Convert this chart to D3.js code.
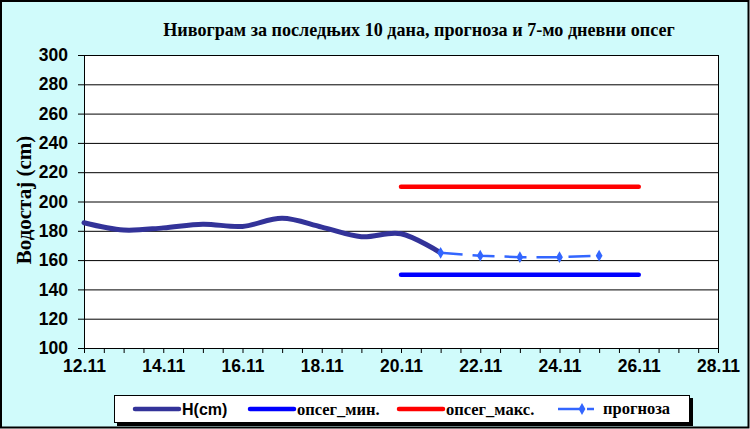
<!DOCTYPE html>
<html>
<head>
<meta charset="utf-8">
<script src="https://cdn.jsdelivr.net/npm/d3@7"></script>
<style>
  body { margin: 0; background: #fff; }
  svg { display: block; }
</style>
</head>
<body>
<svg id="chart"></svg>
<script>
// observed water level, last 10 days
const dates = ["12.11","13.11","14.11","15.11","16.11","17.11","18.11","19.11","20.11","21.11"];
const levelH = [185.5, 180.5, 182, 184.5, 183, 188.5, 182.5, 176, 178, 165];

// forecast
const forecastDates = ["21.11","22.11","23.11","24.11","25.11"];
const forecastValues = [165, 163, 162, 162, 163];

// 7 day range
const rangeDates = ["20.11","26.11"];
const rangeMin = [150, 150];
const rangeMax = [210, 210];

const yTicks = [100,120,140,160,180,200,220,240,260,280,300];
const xTickLabels = ["12.11","14.11","16.11","18.11","20.11","22.11","24.11","26.11","28.11"];

const legendNames = ["H(cm)", "опсег_мин.", "опсег_макс.", "прогноза"];

const config = {
  width: 750,
  height: 429,
  margin: { top: 55, right: 32, bottom: 81, left: 84 }
};

const parse = d3.timeParse("%d.%m");
const fmt = d3.timeFormat("%d.%m");

const width = config.width - config.margin.left - config.margin.right;
const height = config.height - config.margin.top - config.margin.bottom;

const svg = d3.select('#chart')
    .attr('width', config.width)
    .attr('height', config.height);

// background with border
svg.append('rect')
    .attr('x', 1).attr('y', 1)
    .attr('width', config.width - 2.5).attr('height', config.height - 2.5)
    .attr('fill', '#d0fbfb')
    .attr('stroke', '#000')
    .attr('stroke-width', 2);

const xScale = d3.scaleTime()
    .domain([parse(xTickLabels[0]), parse(xTickLabels[xTickLabels.length - 1])])
    .range([0, width]);

const yScale = d3.scaleLinear()
    .domain([yTicks[0], yTicks[yTicks.length - 1]])
    .range([height, 0]);

const chart = svg.append('g')
    .attr('transform', `translate(${config.margin.left},${config.margin.top})`);

chart.append('rect')
    .attr('width', width)
    .attr('height', height)
    .attr('fill', '#fff');

// gridlines + y axis
const yAxis = d3.axisLeft(yScale).tickValues(yTicks).tickSize(6).tickPadding(10);
const yAxisG = chart.append('g').call(yAxis);
yAxisG.select('.domain').attr('stroke', '#000');
yAxisG.selectAll('.tick line').attr('stroke', '#000')
    .attr('x2', -6).attr('x1', width);
yAxisG.selectAll('.tick text')
    .attr('font-family', 'Liberation Sans, Arial, sans-serif')
    .attr('font-weight', 'bold')
    .attr('font-size', 17.5)
    .attr('fill', '#000');

// right border of plot area
chart.append('line')
    .attr('x1', width + 0.5).attr('x2', width + 0.5)
    .attr('y1', 0).attr('y2', height)
    .attr('stroke', '#000');

// x axis: minor ticks every half day, labels every two days
const xAxisMinor = d3.axisBottom(xScale)
    .ticks(d3.timeHour.every(12))
    .tickSize(5)
    .tickFormat('');
const xMinorG = chart.append('g')
    .attr('transform', `translate(0,${height})`)
    .call(xAxisMinor);
xMinorG.selectAll('line, path').attr('stroke', '#000');

const xAxis = d3.axisBottom(xScale)
    .tickValues(xTickLabels.map(parse))
    .tickSize(0)
    .tickPadding(12)
    .tickFormat(fmt);
const xAxisG = chart.append('g')
    .attr('transform', `translate(0,${height})`)
    .call(xAxis);
xAxisG.select('.domain').remove();
xAxisG.selectAll('.tick text')
    .attr('font-family', 'Liberation Sans, Arial, sans-serif')
    .attr('font-weight', 'bold')
    .attr('font-size', 17.5)
    .attr('fill', '#000');

// range lines
const line = d3.line()
    .x(d => xScale(d.date))
    .y(d => yScale(d.value));

const zip = (ds, vs) => ds.map((d, i) => ({ date: parse(d), value: vs[i] }));

chart.append('path')
    .datum(zip(rangeDates, rangeMin))
    .attr('d', line)
    .attr('fill', 'none')
    .attr('stroke', '#0000ff')
    .attr('stroke-width', 4.5)
    .attr('stroke-linecap', 'round');

chart.append('path')
    .datum(zip(rangeDates, rangeMax))
    .attr('d', line)
    .attr('fill', 'none')
    .attr('stroke', '#ff0000')
    .attr('stroke-width', 4.5)
    .attr('stroke-linecap', 'round');

// observed level, smoothed
chart.append('path')
    .datum(zip(dates, levelH))
    .attr('d', line.curve(d3.curveCardinal))
    .attr('fill', 'none')
    .attr('stroke', '#333399')
    .attr('stroke-width', 5)
    .attr('stroke-linecap', 'round');

// forecast
const fData = zip(forecastDates, forecastValues);
chart.append('path')
    .datum(fData)
    .attr('d', line.curve(d3.curveLinear))
    .attr('fill', 'none')
    .attr('stroke', '#3366ff')
    .attr('stroke-width', 2.5)
    .attr('stroke-dasharray', '22,10');

const diamond = d3.symbol().type(d3.symbolDiamond).size(40);
chart.selectAll('.fpoint')
    .data(fData)
  .join('path')
    .attr('class', 'fpoint')
    .attr('transform', d => `translate(${xScale(d.date)},${yScale(d.value)})`)
    .attr('d', diamond)
    .attr('fill', '#3366ff');

// title - size it so it spans about 512px like the original
const title = svg.append('text')
    .attr('x', 419)
    .attr('y', 36)
    .attr('text-anchor', 'middle')
    .attr('font-family', 'Liberation Serif, Times New Roman, serif')
    .attr('font-weight', 'bold')
    .attr('font-size', 20)
    .text('Нивограм за последњих 10 дана, прогноза и 7-мо дневни опсег');
const tw = title.node().getComputedTextLength();
title.attr('font-size', Math.min(22, 20 * 512 / tw));

// y label
svg.append('text')
    .attr('transform', 'translate(31,200) rotate(-90)')
    .attr('text-anchor', 'middle')
    .attr('font-family', 'Liberation Serif, Times New Roman, serif')
    .attr('font-weight', 'bold')
    .attr('font-size', 21)
    .text('Водостај (cm)');

// legend
const legend = svg.append('g');
legend.append('rect')
    .attr('x', 117).attr('y', 398)
    .attr('width', 576).attr('height', 28)
    .attr('fill', '#000');
legend.append('rect')
    .attr('x', 114.5).attr('y', 395.5)
    .attr('width', 575).attr('height', 27)
    .attr('fill', '#fff')
    .attr('stroke', '#000');

const serif = 'Liberation Serif, Times New Roman, serif';
const legendItems = [
  { name: legendNames[0], color: '#333399', x: 135, w: 4.5, font: 'Liberation Sans, Arial, sans-serif', size: 16 },
  { name: legendNames[1], color: '#0000ff', x: 250, w: 4.5, font: serif, size: 16.5 },
  { name: legendNames[2], color: '#ff0000', x: 399, w: 4.5, font: serif, size: 16.5 },
  { name: legendNames[3], color: '#3366ff', x: 558, w: 2.5, font: serif, size: 16.5, dash: true }
];

const ly = 409;
legendItems.forEach(it => {
  if (it.dash) {
    legend.append('line')
        .attr('x1', it.x).attr('x2', it.x + 24)
        .attr('y1', ly).attr('y2', ly)
        .attr('stroke', it.color).attr('stroke-width', it.w);
    legend.append('line')
        .attr('x1', it.x + 29).attr('x2', it.x + 36)
        .attr('y1', ly).attr('y2', ly)
        .attr('stroke', it.color).attr('stroke-width', it.w);
    legend.append('path')
        .attr('transform', `translate(${it.x + 24},${ly})`)
        .attr('d', diamond)
        .attr('fill', it.color);
    legend.append('text')
        .attr('x', it.x + 45).attr('y', ly + 5)
        .attr('font-family', it.font).attr('font-weight', 'bold').attr('font-size', it.size)
        .text(it.name);
  } else {
    legend.append('line')
        .attr('x1', it.x).attr('x2', it.x + 44)
        .attr('y1', ly).attr('y2', ly)
        .attr('stroke', it.color).attr('stroke-width', it.w)
        .attr('stroke-linecap', 'round');
    legend.append('text')
        .attr('x', it.x + 47).attr('y', ly + 5.5)
        .attr('font-family', it.font).attr('font-weight', 'bold').attr('font-size', it.size)
        .text(it.name);
  }
});
</script>
</body>
</html>
